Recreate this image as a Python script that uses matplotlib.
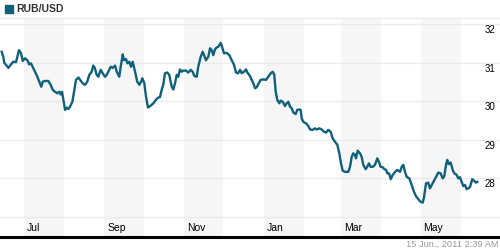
import numpy as np
import matplotlib
matplotlib.use("Agg")
import matplotlib.pyplot as plt
import matplotlib.dates as mdates
import matplotlib.transforms as mtransforms
from matplotlib.patches import Rectangle

# ---- data ----
series_name = "RUB/USD"
start_date = "2010-06-13"
day_offsets = [
    1.3, 2.5, 3.3, 4.6, 6.4, 8.4, 10.2, 12.3, 14.5, 16.1, 17.4, 19.1, 20.9, 22.4, 23.7,
    25.5, 26.8, 28.6, 30.1, 31.6, 32.7, 34.5, 37.0, 38.8, 40.4, 42.1, 43.9, 45.4, 46.5,
    47.5, 48.5, 49.8, 51.1, 52.3, 53.6, 55.4, 56.7, 58.2, 60.0, 61.3, 63.3, 65.1, 66.8,
    68.4, 70.2, 71.4, 72.7, 74.0, 75.3, 77.1, 78.6, 80.4, 81.7, 82.9, 84.8, 86.3, 88.1,
    89.4, 91.3, 92.4, 94.0, 94.9, 96.5, 97.5, 99.0, 100.3, 101.6, 103.4, 105.1, 106.7,
    108.0, 109.0, 110.5, 111.8, 113.3, 115.4, 117.4, 119.4, 121.2, 122.5, 123.8, 125.0,
    126.3, 128.1, 129.6, 131.5, 132.7, 134.0, 135.3, 136.5, 137.8, 139.1, 140.4, 142.4,
    144.2, 146.0, 147.5, 148.8, 150.6, 151.8, 153.7, 155.2, 156.2, 157.7, 159.5, 160.8,
    162.1, 163.3, 164.6, 165.9, 167.2, 169.0, 170.0, 171.5, 173.6, 175.6, 177.4, 179.2,
    180.7, 182.2, 183.8, 185.1, 186.8, 188.4, 189.4, 191.4, 192.7, 194.0, 195.3, 196.6,
    197.8, 199.6, 201.6, 203.7, 205.4, 207.3, 208.8, 210.0, 211.1, 212.3, 213.9, 214.9,
    216.5, 218.2, 219.5, 220.8, 222.1, 223.4, 224.6, 226.4, 227.6, 228.9, 230.2, 231.0,
    232.2, 234.3, 236.1, 237.4, 239.4, 241.2, 242.5, 244.5, 246.3, 248.1, 249.6, 251.4,
    253.2, 254.7, 256.5, 258.3, 259.8, 261.1, 262.4, 264.2, 266.7, 268.0, 269.3, 270.5,
    271.8, 272.6, 273.9, 275.7, 276.9, 278.2, 280.0, 281.2, 282.5, 283.8, 285.4, 287.1,
    288.9, 290.4, 291.5, 293.0, 294.3, 295.6, 296.6, 297.9, 299.2, 300.7, 302.5, 304.2,
    306.3, 307.6, 308.8, 310.1, 311.4, 313.4, 315.2, 317.0, 318.5, 320.3, 322.1, 323.7,
    324.7, 326.2, 327.9, 329.2, 330.6, 331.8, 333.8, 335.6, 337.4, 339.0, 340.2, 341.5,
    342.5, 343.6, 345.1, 346.6, 347.9, 349.7, 350.9, 352.2, 353.5, 354.7, 356.0, 357.3,
    358.6, 359.9, 361.6, 362.9, 364.5, 365.5,
]
rates = [
    31.28, 31.15, 30.99, 30.94, 30.86, 30.95, 31.02, 31.01, 31.32, 31.24, 31.04, 31.11, 31.06, 30.95, 30.98,
    30.85, 30.76, 30.63, 30.50, 30.37, 30.50, 30.52, 30.52, 30.42, 30.29, 30.24, 30.20, 30.24, 30.17,
    30.24, 30.03, 29.77, 29.83, 29.79, 29.85, 29.98, 30.24, 30.55, 30.61, 30.55, 30.46, 30.42, 30.50,
    30.68, 30.76, 30.92, 30.85, 30.68, 30.63, 30.81, 30.72, 30.63, 30.68, 30.76, 30.89, 30.86, 30.92,
    30.76, 30.63, 30.89, 31.21, 31.06, 31.09, 30.98, 31.02, 30.89, 31.02, 30.76, 30.50, 30.42,
    30.50, 30.59, 30.46, 30.11, 29.83, 29.88, 29.94, 30.03, 30.09, 30.10, 30.29, 30.42,
    30.72, 30.74, 30.68, 30.37, 30.30, 30.46, 30.68, 30.63, 30.82, 30.76, 30.79, 30.79,
    30.74, 30.81, 30.76, 30.65, 30.63, 30.89, 31.15, 31.28, 31.19, 31.06, 31.15, 31.37,
    31.32, 31.19, 31.34, 31.39, 31.41, 31.51, 31.41, 31.24, 31.25, 31.19, 31.06, 30.94,
    30.74, 30.72, 30.81, 30.72, 30.76, 30.82, 30.74, 30.65, 30.55, 30.46, 30.33, 30.36,
    30.44, 30.55, 30.56, 30.55, 30.63, 30.72, 30.76, 30.68, 30.24, 30.03, 29.94, 30.01,
    29.98, 29.87, 29.94, 29.98, 29.85, 29.81, 29.70, 29.66, 29.77, 29.78, 29.77, 29.55,
    29.46, 29.42, 29.35, 29.26, 29.25, 29.29, 29.26, 29.29, 29.26, 29.20, 29.18, 29.25,
    29.20, 29.03, 28.94, 28.86, 28.64, 28.38, 28.19, 28.16, 28.16, 28.29, 28.55, 28.64,
    28.60, 28.51, 28.71, 28.64, 28.55, 28.34, 28.23, 28.29, 28.38, 28.29, 28.29, 28.34,
    28.51, 28.40, 28.29, 28.28, 28.23, 28.21, 28.12, 28.12, 27.97, 28.08, 28.16, 28.21,
    28.16, 28.29, 28.34, 28.16, 28.03, 27.99, 27.82, 27.64, 27.53, 27.45, 27.38, 27.36,
    27.51, 27.86, 27.88, 27.73, 27.82, 27.90, 28.03, 28.14, 28.12, 27.99, 28.05, 28.34,
    28.47, 28.36, 28.40, 28.21, 28.12, 28.08, 27.99, 28.02, 27.90, 27.79, 27.82, 27.71,
    27.73, 27.77, 27.97, 27.93, 27.88, 27.90,
]
y_ticks = [27, 28, 29, 30, 31, 32]
y_labels = ["28", "29", "30", "31", "32"]
month_starts = ["2010-07-01", "2010-08-01", "2010-09-01", "2010-10-01", "2010-11-01", "2010-12-01",
                "2011-01-01", "2011-02-01", "2011-03-01", "2011-04-01", "2011-05-01", "2011-06-01"]
shaded_months = ["2010-07-01", "2010-09-01", "2010-11-01", "2011-01-01", "2011-03-01", "2011-05-01"]
month_labels = ["Jul", "Sep", "Nov", "Jan", "Mar", "May"]
timestamp = "15 Jun., 2011 2:39 AM"

# ---- style ----
LINE = "#10607c"
GRID = "#ebebeb"
BAND = "#f6f6f6"
plt.rcParams["font.family"] = ["Liberation Sans", "DejaVu Sans"]

W, H = 500, 250
fig = plt.figure(figsize=(W / 100, H / 100), dpi=100)
ax_bottom_px, ax_top_px = 236.7, 17.5
ax = fig.add_axes([0, 1 - ax_bottom_px / H, 1, (ax_bottom_px - ax_top_px) / H])

t0 = mdates.datestr2num(start_date)
x = t0 + np.array(day_offsets)
px_per_day = 1.306
ax.set_xlim(t0, t0 + W / px_per_day)
px_per_unit = 38.5
y_at_24 = 32
ax.set_ylim(y_at_24 - (ax_bottom_px - 24) / px_per_unit, y_at_24 + (24 - ax_top_px) / px_per_unit)

# shaded bands
ms = [mdates.datestr2num(m) for m in month_starts]
for m in shaded_months:
    s = mdates.datestr2num(m)
    i = ms.index(s)
    ax.axvspan(s, ms[i + 1], color=BAND, lw=0, zorder=0)

# gridlines
for v in y_ticks:
    ax.axhline(v, color=GRID, lw=1, zorder=1)

ax.plot(x, rates, color=LINE, lw=1.7, solid_joinstyle="round", zorder=3)

ax.set_xticks([])
ax.set_yticks([])
for s in ["left", "right"]:
    ax.spines[s].set_visible(False)
ax.spines["top"].set_color(GRID)
ax.spines["top"].set_linewidth(1)
ax.spines["bottom"].set_color("black")
ax.spines["bottom"].set_linewidth(2.2)
ax.patch.set_alpha(0)

# y labels inside right
trans_y = mtransforms.blended_transform_factory(ax.transAxes, ax.transData)
for lab in y_labels:
    ax.annotate(lab, xy=(1, float(lab)), xycoords=trans_y, xytext=(-5, -6),
                textcoords="offset pixels", ha="right", va="center",
                fontsize=7, color="black")

# month labels
trans_x = mtransforms.blended_transform_factory(ax.transData, ax.transAxes)
for m, lab in zip(shaded_months, month_labels):
    ax.annotate(lab, xy=(mdates.datestr2num(m), 0), xycoords=trans_x, xytext=(3, 8.5),
                textcoords="offset pixels", ha="left", va="center", fontsize=7.5, color="black")

# title with square
fig.patches.append(Rectangle((5 / W, 1 - 12.7 / H), 7.7 / W, 7.7 / H, transform=fig.transFigure,
                             color=LINE, figure=fig))
fig.text(16.5 / W, 1 - 9 / H, series_name, fontsize=7.5, fontweight="bold", color="#333333",
         ha="left", va="center")

fig.text(499 / W, 1 - 244 / H, timestamp, fontsize=6.7, color="#999999", ha="right", va="center")

fig.savefig("out.png", dpi=100)
